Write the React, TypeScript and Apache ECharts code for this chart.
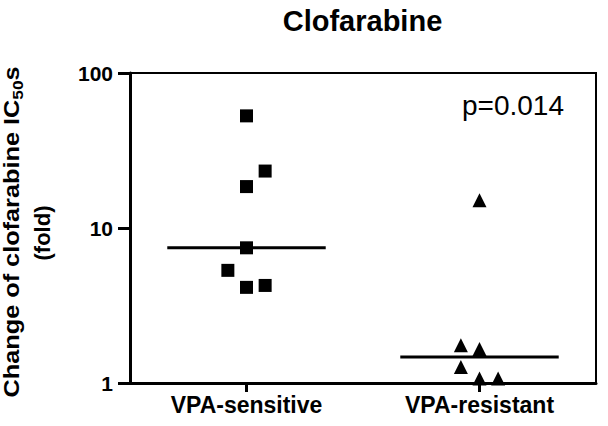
import React, { useEffect, useRef } from "react";
import * as echarts from "echarts";

const categories = ["VPA-sensitive", "VPA-resistant"];
const sensitiveValues = [52.9, 23.3, 18.5, 7.45, 5.33, 4.14, 4.26];
const sensitiveJitter = [0, 0.08, 0, 0, -0.08, 0, 0.08];
const resistantValues = [15.1, 1.75, 1.66, 1.27, 1.07, 1.07];
const resistantJitter = [0, -0.08, 0, -0.08, 0, 0.08];
const medians = [7.45, 1.47];
const titleText = "Clofarabine";
const pValueLabel = "p=0.014";
const yNameLine1 = "Change of clofarabine IC{sub|50}s";
const yNameLine2 = "(fold)";

export default function App() {
  const ref = useRef<HTMLDivElement>(null);
  useEffect(() => {
    const chart = echarts.init(ref.current!, null, { renderer: "svg" });
    const font = "'Liberation Sans', Arial, Helvetica, sans-serif";
    const black = "#000";
    const medianHalf = 0.34;
    chart.setOption({
      animation: false,
      backgroundColor: "#fff",
      grid: {
        left: 130,
        right: 12,
        top: 73,
        bottom: 43,
        show: true,
        borderColor: black,
        borderWidth: 2,
        backgroundColor: "transparent",
      },
      xAxis: [
        {
          type: "category",
          data: categories,
          boundaryGap: true,
          axisLine: { show: true, onZero: false, lineStyle: { color: black, width: 3 } },
          axisTick: { show: true, alignWithLabel: true, length: 9, lineStyle: { color: black, width: 3 } },
          axisLabel: { fontFamily: font, fontSize: 23, fontWeight: "bold", color: black, margin: 10 },
          splitLine: { show: false },
        },
        {
          type: "value",
          min: -0.5,
          max: 1.5,
          show: false,
          axisLine: { show: false, onZero: false },
          axisTick: { show: false },
          axisLabel: { show: false },
          splitLine: { show: false },
        },
      ],
      yAxis: {
        type: "log",
        logBase: 10,
        min: 1,
        max: 100,
        axisLine: { show: true, onZero: false, lineStyle: { color: black, width: 3 } },
        axisTick: { show: true, length: 12, lineStyle: { color: black, width: 3 } },
        minorTick: { show: false },
        axisLabel: { fontFamily: font, fontSize: 21, fontWeight: "bold", color: black, margin: 17 },
        splitLine: { show: false },
      },
      graphic: [
        {
          type: "text",
          x: 362.5,
          y: 20.5,
          style: {
            text: titleText,
            font: `bold 29px ${font}`,
            fill: black,
            align: "center",
            verticalAlign: "middle",
          },
        },
        {
          type: "text",
          x: 462,
          y: 105,
          style: {
            text: pValueLabel,
            font: `28px ${font}`,
            fill: black,
            align: "left",
            verticalAlign: "middle",
          },
        },
        {
          type: "text",
          x: 12,
          y: 232,
          rotation: Math.PI / 2,
          scaleX: 1.15,
          style: {
            text: yNameLine1,
            fontFamily: font,
            fontSize: 22,
            fontWeight: "bold",
            fill: black,
            align: "center",
            verticalAlign: "middle",
            lineHeight: 26,
            rich: {
              sub: {
                fontFamily: font,
                fontSize: 15,
                fontWeight: "bold",
                fill: black,
                lineHeight: 14,
                verticalAlign: "bottom",
              },
            },
          },
        },
        {
          type: "text",
          x: 42,
          y: 233,
          rotation: Math.PI / 2,
          style: {
            text: yNameLine2,
            font: `bold 22px ${font}`,
            fill: black,
            align: "center",
            verticalAlign: "middle",
          },
        },
      ],
      series: [
        {
          type: "scatter",
          xAxisIndex: 1,
          symbol: "rect",
          symbolSize: 13,
          itemStyle: { color: black, opacity: 1 },
          data: sensitiveValues.map((v, i) => [0 + sensitiveJitter[i], v]),
          z: 3,
        },
        {
          type: "scatter",
          xAxisIndex: 1,
          symbol: "triangle",
          symbolSize: 14,
          itemStyle: { color: black, opacity: 1 },
          data: resistantValues.map((v, i) => [1 + resistantJitter[i], v]),
          z: 3,
        },
        ...medians.map((m, i) => ({
          type: "line",
          xAxisIndex: 1,
          symbol: "none",
          lineStyle: { color: black, width: 3 },
          data: [
            [i - medianHalf, m],
            [i + medianHalf, m],
          ],
          z: 2,
        })),
      ],
    });
    return () => chart.dispose();
  }, []);
  return <div ref={ref} style={{ width: 608, height: 426, position: "fixed", left: 0, top: 0 }} />;
}
